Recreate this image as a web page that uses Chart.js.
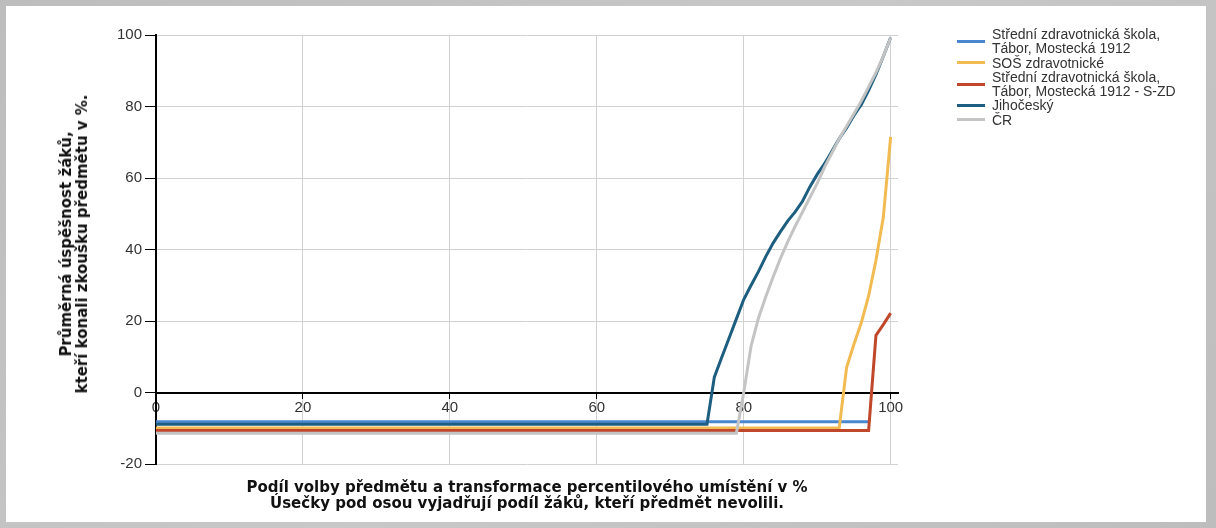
<!DOCTYPE html>
<html>
<head>
<meta charset="utf-8">
<script src="https://cdn.jsdelivr.net/npm/chart.js@4"></script>
<style>
  html, body { margin: 0; padding: 0; }
  body { width: 1216px; height: 528px; background: linear-gradient(135deg, #bdbdbd 0%, #c8c8c8 50%, #bdbdbd 100%); position: relative; overflow: hidden; font-family: "Liberation Sans", Arial, sans-serif; }
  #panel { position: absolute; left: 6px; top: 6px; width: 1200px; height: 516px; background: #fff; }
  #chart { position: absolute; left: 0; top: 0; }
  .ytitle { position: absolute; left: 74px; top: 244px; transform: translate(-50%, -50%) rotate(-90deg); white-space: nowrap; text-align: center; font: bold 15px "DejaVu Sans", sans-serif; line-height: 16px; color: #111; }
  .xtitle { position: absolute; left: 527px; top: 495px; transform: translate(-50%, -50%); white-space: nowrap; text-align: center; font: bold 15px "DejaVu Sans", sans-serif; line-height: 16px; color: #111; }
  #legend { position: absolute; left: 957px; top: 27px; font: 14px "Liberation Sans", Arial, sans-serif; color: #333; line-height: 14.3px; }
  .item { display: flex; align-items: center; }
  .swatch { width: 28px; height: 3px; margin-right: 7px; flex: none; }
</style>
</head>
<body>
<div id="panel"></div>
<canvas id="chart" width="1216" height="528"></canvas>
<div class="ytitle">Průměrná úspěšnost žáků,<br>kteří konali zkoušku předmětu v %.</div>
<div class="xtitle">Podíl volby předmětu a transformace percentilového umístění v %<br>Úsečky pod osou vyjadřují podíl žáků, kteří předmět nevolili.</div>
<div id="legend"></div>
<script>
// ---- data ----
const seriesNames = [
  ["Střední zdravotnická škola,", "Tábor, Mostecká 1912"],
  ["SOŠ zdravotnické"],
  ["Střední zdravotnická škola,", "Tábor, Mostecká 1912 - S-ZD"],
  ["Jihočeský"],
  ["ČR"]
];
const seriesColors = ["#4a87cf", "#f2bb52", "#c1472b", "#1d5e80", "#c4c4c4"];

const schoolX = [0, 97];
const schoolY = [-8.2, -8.2];

const sosX = [0, 93, 94, 95, 96, 97, 98, 99, 100];
const sosY = [-9.9, -9.9, 7, 13.5, 19.5, 27, 37, 49, 71.5];

const szdX = [0, 97, 98, 99, 100];
const szdY = [-10.6, -10.6, 16, 19, 22.2];

const jihX = [0, 75, 76, 77, 78, 79, 80, 81, 82, 83, 84, 85, 86, 87, 88, 89, 90, 91, 92, 93, 94, 95, 96, 97, 98, 99, 100];
const jihY = [-8.9, -8.9, 4.3, 9.8, 15.2, 20.6, 26, 30, 33.8, 38, 41.8, 45, 48, 50.5, 53.5, 57.5, 61, 64, 67.5, 71, 74, 77.5, 80.5, 84.5, 89, 94, 99.3];

const crX = [0, 79, 80, 81, 82, 83, 84, 85, 86, 87, 88, 89, 90, 91, 92, 93, 94, 95, 96, 97, 98, 99, 100];
const crY = [-11.4, -11.4, 0, 13, 20.8, 26.8, 32.3, 37.5, 42.2, 46.5, 50.5, 54.5, 58.5, 63, 67, 71, 74.5, 78, 81.5, 85.5, 89.5, 94, 99.3];

const xTicks = [0, 20, 40, 60, 80, 100];
const yTicks = [-20, 0, 20, 40, 60, 80, 100];

// ---- build ----
const seriesX = [schoolX, sosX, szdX, jihX, crX];
const seriesY = [schoolY, sosY, szdY, jihY, crY];
const datasets = seriesX.map((xs, i) => ({
  label: seriesNames[i].join(" "),
  data: xs.map((x, j) => ({ x: x, y: seriesY[i][j] })),
  borderColor: seriesColors[i],
  backgroundColor: seriesColors[i],
  borderWidth: 3,
  pointRadius: 0,
  tension: 0,
  fill: false,
  order: seriesX.length - i
}));

// HTML legend
const legend = document.getElementById("legend");
seriesNames.forEach((lines, i) => {
  const it = document.createElement("div");
  it.className = "item";
  const sw = document.createElement("div");
  sw.className = "swatch";
  sw.style.background = seriesColors[i];
  const tx = document.createElement("div");
  lines.forEach(l => { const d = document.createElement("div"); d.textContent = l; tx.appendChild(d); });
  it.appendChild(sw); it.appendChild(tx);
  legend.appendChild(it);
});

const tickFont = { family: "'Liberation Sans', Arial, sans-serif", size: 15 };
new Chart(document.getElementById("chart"), {
  type: "line",
  data: { datasets: datasets },
  options: {
    responsive: false,
    animation: false,
    devicePixelRatio: 1,
    layout: { padding: { left: 0, top: 35, right: 318, bottom: 64 } },
    plugins: { legend: { display: false }, tooltip: { enabled: false } },
    scales: {
      x: {
        type: "linear",
        position: { y: 0 },
        min: 0, max: 101,
        afterBuildTicks: s => { s.ticks = xTicks.map(v => ({ value: v })); },
        ticks: { font: tickFont, color: "#333", padding: 1, maxRotation: 0 },
        grid: { color: "#d2d2d2", lineWidth: 1, tickColor: "#000", tickLength: 5 },
        border: { color: "#000", width: 2 }
      },
      y: {
        type: "linear",
        position: "left",
        min: -20, max: 100,
        afterBuildTicks: s => { s.ticks = yTicks.map(v => ({ value: v })); },
        afterFit: s => { s.width = 156; },
        ticks: { font: tickFont, color: "#333", padding: 3 },
        grid: { color: "#d2d2d2", lineWidth: 1, tickColor: "#000", tickLength: 11 },
        border: { color: "#000", width: 2 }
      }
    }
  }
});
</script>
</body>
</html>
